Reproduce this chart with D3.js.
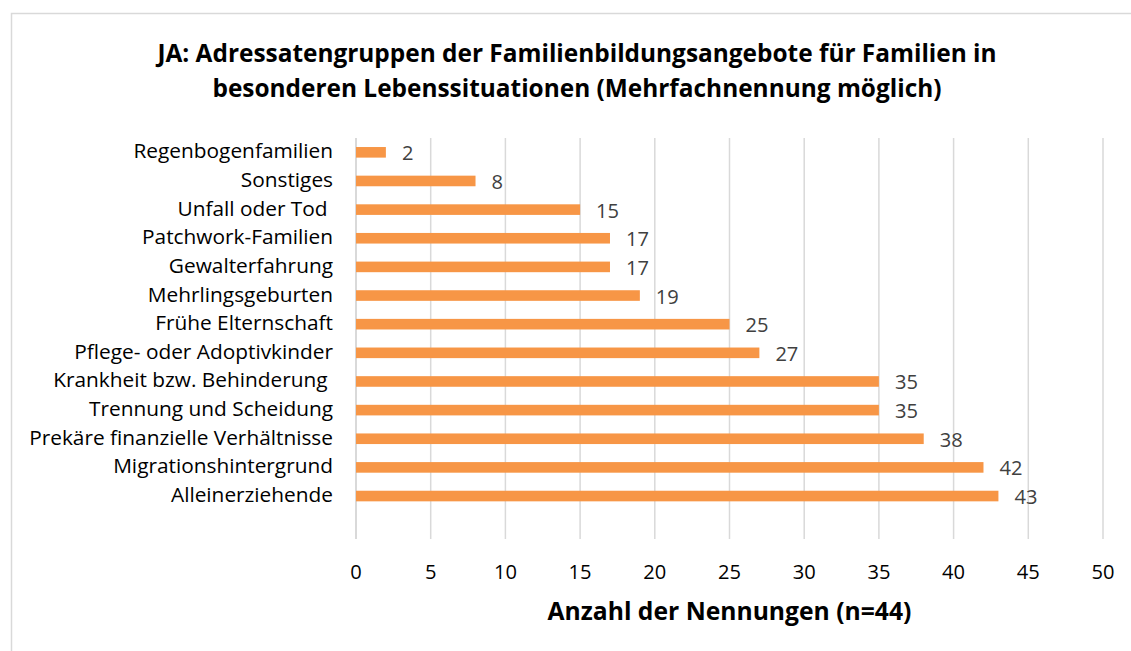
<!DOCTYPE html>
<html>
<head>
<meta charset="utf-8">
<script src="https://cdn.jsdelivr.net/npm/d3@7"></script>
<style>
  body { margin: 0; background: #fff; }
  svg text { font-family: "Open Sans", sans-serif; white-space: pre; }
</style>
</head>
<body>
<div id="chart"></div>
<script>
const categories = [
    "Regenbogenfamilien", "Sonstiges", "Unfall oder Tod ", "Patchwork-Familien",
    "Gewalterfahrung", "Mehrlingsgeburten", "Frühe Elternschaft",
    "Pflege- oder Adoptivkinder", "Krankheit bzw. Behinderung ",
    "Trennung und Scheidung", "Prekäre finanzielle Verhältnisse",
    "Migrationshintergrund", "Alleinerziehende"
];
const counts = [2, 8, 15, 17, 17, 19, 25, 27, 35, 35, 38, 42, 43];
const xTicks = [0, 5, 10, 15, 20, 25, 30, 35, 40, 45, 50];
const titleLines = [
    "JA: Adressatengruppen der Familienbildungsangebote für Familien in",
    "besonderen Lebenssituationen (Mehrfachnennung möglich)"
];
const xTitle = "Anzahl der Nennungen (n=44)";

const outerWidth = 1131, outerHeight = 651;
const margin = {top: 138, right: 28, bottom: 112, left: 356};
const width = outerWidth - margin.left - margin.right;
const height = outerHeight - margin.top - margin.bottom;

const svg = d3.select("#chart").append("svg")
    .attr("width", outerWidth)
    .attr("height", outerHeight);

// size a font so that a sample string takes the width it has in the source
function fitSize(sample, target, weight) {
    const t = svg.append("text")
        .attr("font-size", 20)
        .attr("font-weight", weight || "normal")
        .text(sample);
    const w = t.node().getComputedTextLength();
    t.remove();
    return 20 * target / w;
}
const titleSize = fitSize(titleLines[0], 840, "bold");
const labelSize = fitSize("Prekäre finanzielle Verhältnisse", 304);
const numSize = fitSize("50", 23);
const xTitleSize = fitSize(xTitle, 364, "bold");

// chart border
svg.append("rect")
    .attr("x", 11.5).attr("y", 13.5)
    .attr("width", 1130).attr("height", 660)
    .attr("fill", "none")
    .attr("stroke", "#d9d9d9")
    .attr("stroke-width", 1.5);

svg.append("g")
    .selectAll("text")
    .data(titleLines)
    .join("text")
    .attr("x", 577)
    .attr("y", (d, i) => 62 + i * 35)
    .attr("text-anchor", "middle")
    .attr("font-size", titleSize)
    .attr("font-weight", "bold")
    .attr("fill", "#000")
    .text(d => d);

const g = svg.append("g")
    .attr("transform", "translate(" + margin.left + "," + margin.top + ")");

const xScale = d3.scaleLinear()
    .domain([0, 50])
    .range([0, width]);

// an empty slot at the bottom, like the source chart
const yScale = d3.scaleBand()
    .domain(categories.concat([""]))
    .range([0, height])
    .paddingInner(0.63)
    .paddingOuter(0.315);

// gridlines
g.append("g")
    .selectAll("line")
    .data(xTicks)
    .join("line")
    .attr("x1", d => xScale(d)).attr("x2", d => xScale(d))
    .attr("y1", 0).attr("y2", height)
    .attr("stroke", "#d9d9d9")
    .attr("stroke-width", d => d === 0 ? 2 : 1.5);

// bars
g.append("g")
    .selectAll("rect")
    .data(categories)
    .join("rect")
    .attr("x", xScale(0))
    .attr("y", d => yScale(d))
    .attr("width", (d, i) => xScale(counts[i]) - xScale(0))
    .attr("height", yScale.bandwidth())
    .attr("fill", "#f79646");

// value labels
g.append("g")
    .selectAll("text")
    .data(categories)
    .join("text")
    .attr("x", (d, i) => xScale(counts[i]) + 16)
    .attr("y", d => yScale(d) + yScale.bandwidth() / 2 + 8)
    .attr("font-size", numSize)
    .attr("fill", "#404040")
    .text((d, i) => counts[i]);

// category labels
g.append("g")
    .selectAll("text")
    .data(categories)
    .join("text")
    .attr("x", -23)
    .attr("y", d => yScale(d) + yScale.bandwidth() / 2 + 6)
    .attr("text-anchor", "end")
    .attr("font-size", labelSize)
    .attr("fill", "#000")
    .text(d => d);

// x tick labels
g.append("g")
    .selectAll("text")
    .data(xTicks)
    .join("text")
    .attr("x", d => xScale(d))
    .attr("y", height + 40)
    .attr("text-anchor", "middle")
    .attr("font-size", numSize)
    .attr("fill", "#000")
    .text(d => d);

g.append("text")
    .attr("x", width / 2)
    .attr("y", height + 81)
    .attr("text-anchor", "middle")
    .attr("font-size", xTitleSize)
    .attr("font-weight", "bold")
    .attr("fill", "#000")
    .text(xTitle);
</script>
</body>
</html>
